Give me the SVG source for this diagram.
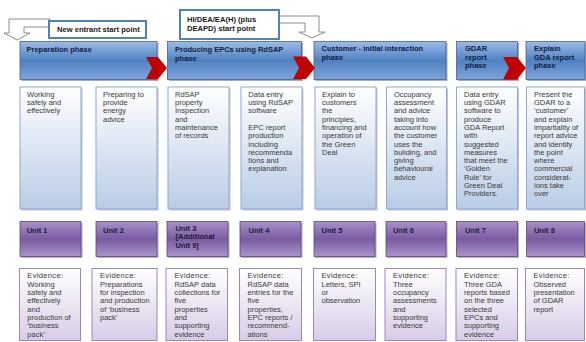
<svg xmlns="http://www.w3.org/2000/svg" width="586" height="342" viewBox="0 0 586 342">
<defs>
<linearGradient id="gBlue" x1="0" y1="0" x2="0" y2="1">
<stop offset="0" stop-color="#9DBCE7"/>
<stop offset="0.5" stop-color="#4F81C2"/>
<stop offset="1" stop-color="#7FA3D8"/>
</linearGradient>
<linearGradient id="gPurple" x1="0" y1="0" x2="0" y2="1">
<stop offset="0" stop-color="#A991C9"/>
<stop offset="0.5" stop-color="#7A5BA1"/>
<stop offset="1" stop-color="#A994C9"/>
</linearGradient>
<linearGradient id="gLight" x1="0" y1="0" x2="0" y2="1">
<stop offset="0" stop-color="#FFFFFF"/>
<stop offset="1" stop-color="#B9CCE6"/>
</linearGradient>
<linearGradient id="gLav" x1="0" y1="0" x2="0" y2="1">
<stop offset="0" stop-color="#FFFFFF"/>
<stop offset="1" stop-color="#D8CCE6"/>
</linearGradient>
</defs>
<style>
text{font-family:"Liberation Sans",Arial,sans-serif;font-size:7.5px;}
.hdr{fill:url(#gBlue);stroke:#3F6597;stroke-width:0.8;}
.hs{fill:#5a6b80;opacity:0.55;}
.ht{font-weight:bold;fill:#10203F;}
.box{fill:url(#gLight);stroke:#8FAAD2;stroke-width:1;}
.bs{fill:#c0c6d0;}
.bt{fill:#3A3A3A;}
.unit{fill:url(#gPurple);stroke:#5E4682;stroke-width:0.8;}
.us{fill:#6d6478;opacity:0.5;}
.ut{font-weight:bold;fill:#24173A;}
.ev{fill:url(#gLav);stroke:#9C86BF;stroke-width:1;}
.et{fill:#3A3A3A;}
.eh{letter-spacing:0.35px;}
.chev{fill:#C00000;}
.lbl{fill:#FFFFFF;stroke:#4F81BD;stroke-width:2;}
.lt{font-weight:bold;fill:#1A1A1A;font-size:7.6px;}
.conn{fill:#FFFFFF;stroke:#707070;stroke-width:0.8;}
</style>

<g id="connectors">
<path class="conn" d="M50,19 L9,19 L9,33 L4,33 L17,40 L30,33 L24,33 L24,27 L50,27 Z"/>
<path class="conn" d="M279,16 L319,16 L319,32 L325,32 L312,38 L299,32 L305,32 L305,23 L279,23 Z"/>
</g>

<g id="label-new-entrant">
<rect class="lbl" x="49" y="21" width="97" height="17"/>
<text class="lt" x="57" y="32">New entrant start point</text>
</g>
<g id="label-hidea">
<rect class="lbl" x="180" y="10" width="99" height="29"/>
<text class="lt" x="187" y="21.5">HI/DEA/EA(H) (plus</text>
<text class="lt" x="187" y="31">DEAPD) start point</text>
</g>

<g id="phase-preparation">
<rect class="hs" x="21.5" y="43" width="137" height="38"/>
<rect class="hdr" x="20" y="41.5" width="137" height="38"/>
<text class="ht" x="26.5" y="52">Preparation phase</text>
</g>
<g id="phase-producing">
<rect class="hs" x="169" y="43" width="134" height="38"/>
<rect class="hdr" x="167.5" y="41.5" width="134" height="38"/>
<text class="ht" x="175" y="52">Producing  EPCs using RdSAP</text>
<text class="ht" x="175" y="60.5">phase</text>
</g>
<g id="phase-customer">
<rect class="hs" x="315.5" y="43" width="132" height="38"/>
<rect class="hdr" x="314" y="41.5" width="132" height="38"/>
<text class="ht" x="321.5" y="51">Customer - initial interaction</text>
<text class="ht" x="321.5" y="60">phase</text>
</g>
<g id="phase-gdar">
<rect class="hs" x="458" y="43" width="61" height="38"/>
<rect class="hdr" x="456.5" y="41.5" width="61" height="38"/>
<text class="ht" x="465" y="51">GDAR</text>
<text class="ht" x="465" y="59.5">report</text>
<text class="ht" x="465" y="68">phase</text>
</g>
<g id="phase-explain">
<rect class="hs" x="527.5" y="43" width="60" height="38"/>
<rect class="hdr" x="526" y="41.5" width="59" height="38"/>
<text class="ht" x="534" y="51">Explain</text>
<text class="ht" x="534" y="59.5">GDA report</text>
<text class="ht" x="534" y="68">phase</text>
</g>

<g id="chevrons">
<polygon class="chev" points="146,57 158,57 167,68 158,79 146,79 152,68"/>
<polygon class="chev" points="293,56.5 306,56.5 315,68 306,79 293,79 299,68"/>
<polygon class="chev" points="503,57 517,57 526,68 517,79.5 503,79.5 509,68"/>
</g>

<g id="task-1">
<rect class="bs" x="21.5" y="88.5" width="61" height="122"/>
<rect class="box" x="20" y="87" width="61" height="122"/>
<text class="bt" x="27" y="96.7">Working</text>
<text class="bt" x="27" y="105">safely and</text>
<text class="bt" x="27" y="113.3">effectively</text>
</g>
<g id="task-2">
<rect class="bs" x="97.5" y="88.5" width="61" height="122"/>
<rect class="box" x="96" y="87" width="61" height="122"/>
<text class="bt" x="103" y="96.7">Preparing to</text>
<text class="bt" x="103" y="105">provide</text>
<text class="bt" x="103" y="113.3">energy</text>
<text class="bt" x="103" y="121.6">advice</text>
</g>
<g id="task-3">
<rect class="bs" x="169.5" y="88.5" width="61" height="122"/>
<rect class="box" x="168" y="87" width="61" height="122"/>
<text class="bt" x="175" y="96.7">RdSAP</text>
<text class="bt" x="175" y="105">property</text>
<text class="bt" x="175" y="113.3">Inspection</text>
<text class="bt" x="175" y="121.6">and</text>
<text class="bt" x="175" y="129.9">maintenance</text>
<text class="bt" x="175" y="138.2">of records</text>
</g>
<g id="task-4">
<rect class="bs" x="242.5" y="88.5" width="61" height="122"/>
<rect class="box" x="241" y="87" width="61" height="122"/>
<text class="bt" x="248.3" y="96.7">Data entry</text>
<text class="bt" x="248.3" y="105">using RdSAP</text>
<text class="bt" x="248.3" y="113.3">software</text>
<text class="bt" x="248.3" y="129.9">EPC report</text>
<text class="bt" x="248.3" y="138.2">production</text>
<text class="bt" x="248.3" y="146.5">including</text>
<text class="bt" x="248.3" y="154.8">recommenda</text>
<text class="bt" x="248.3" y="163.1">tions and</text>
<text class="bt" x="248.3" y="171.4">explanation</text>
</g>
<g id="task-5">
<rect class="bs" x="316.5" y="88.5" width="61" height="122"/>
<rect class="box" x="315" y="87" width="61" height="122"/>
<text class="bt" x="322" y="96.7">Explain to</text>
<text class="bt" x="322" y="105">customers</text>
<text class="bt" x="322" y="113.3">the</text>
<text class="bt" x="322" y="121.6">principles,</text>
<text class="bt" x="322" y="129.9">financing and</text>
<text class="bt" x="322" y="138.2">operation of</text>
<text class="bt" x="322" y="146.5">the Green</text>
<text class="bt" x="322" y="154.8">Deal</text>
</g>
<g id="task-6">
<rect class="bs" x="388" y="88.5" width="60" height="122"/>
<rect class="box" x="386.5" y="87" width="60" height="122"/>
<text class="bt" x="394" y="96.7">Occupancy</text>
<text class="bt" x="394" y="105">assessment</text>
<text class="bt" x="394" y="113.3">and advice</text>
<text class="bt" x="394" y="121.6">taking into</text>
<text class="bt" x="394" y="129.9">account how</text>
<text class="bt" x="394" y="138.2">the customer</text>
<text class="bt" x="394" y="146.5">uses the</text>
<text class="bt" x="394" y="154.8">building, and</text>
<text class="bt" x="394" y="163.1">giving</text>
<text class="bt" x="394" y="171.4">behavioural</text>
<text class="bt" x="394" y="179.7">advice</text>
</g>
<g id="task-7">
<rect class="bs" x="458" y="88.5" width="61" height="122"/>
<rect class="box" x="456.5" y="87" width="61" height="122"/>
<text class="bt" x="464" y="96.7">Data entry</text>
<text class="bt" x="464" y="105">using GDAR</text>
<text class="bt" x="464" y="113.3">software to</text>
<text class="bt" x="464" y="121.6">produce</text>
<text class="bt" x="464" y="129.9">GDA Report</text>
<text class="bt" x="464" y="138.2">with</text>
<text class="bt" x="464" y="146.5">suggested</text>
<text class="bt" x="464" y="154.8">measures</text>
<text class="bt" x="464" y="163.1">that meet the</text>
<text class="bt" x="464" y="171.4">‘Golden</text>
<text class="bt" x="464" y="179.7">Rule’ for</text>
<text class="bt" x="464" y="188">Green Deal</text>
<text class="bt" x="464" y="196.3">Providers.</text>
</g>
<g id="task-8">
<rect class="bs" x="528" y="88.5" width="59" height="122"/>
<rect class="box" x="526.5" y="87" width="58" height="122"/>
<text class="bt" x="534" y="96.7">Present the</text>
<text class="bt" x="534" y="105">GDAR to a</text>
<text class="bt" x="534" y="113.3">‘customer’</text>
<text class="bt" x="534" y="121.6">and explain</text>
<text class="bt" x="534" y="129.9">impartiality of</text>
<text class="bt" x="534" y="138.2">report advice</text>
<text class="bt" x="534" y="146.5">and identify</text>
<text class="bt" x="534" y="154.8">the point</text>
<text class="bt" x="534" y="163.1">where</text>
<text class="bt" x="534" y="171.4">commercial</text>
<text class="bt" x="534" y="179.7">considerat-</text>
<text class="bt" x="534" y="188">ions take</text>
<text class="bt" x="534" y="196.3">over</text>
</g>

<g id="unit-1">
<rect class="us" x="21.5" y="223" width="61" height="35"/>
<rect class="unit" x="20" y="221.5" width="61" height="35"/>
<text class="ut" x="26.7" y="232.7">Unit 1</text>
</g>
<g id="unit-2">
<rect class="us" x="97.5" y="223" width="61" height="35"/>
<rect class="unit" x="96" y="221.5" width="61" height="35"/>
<text class="ut" x="103" y="232.7">Unit 2</text>
</g>
<g id="unit-3">
<rect class="us" x="168.5" y="223" width="61" height="35"/>
<rect class="unit" x="167" y="221.5" width="61" height="35"/>
<text class="ut" x="175.5" y="231">Unit 3</text>
<text class="ut" x="175.5" y="239.3">[Additional</text>
<text class="ut" x="175.5" y="247.6">Unit 9]</text>
</g>
<g id="unit-4">
<rect class="us" x="241.5" y="223" width="61" height="35"/>
<rect class="unit" x="240" y="221.5" width="61" height="35"/>
<text class="ut" x="248.5" y="232.7">Unit 4</text>
</g>
<g id="unit-5">
<rect class="us" x="315.5" y="223" width="61" height="35"/>
<rect class="unit" x="314" y="221.5" width="61" height="35"/>
<text class="ut" x="321.5" y="232.7">Unit 5</text>
</g>
<g id="unit-6">
<rect class="us" x="387.5" y="223" width="60" height="35"/>
<rect class="unit" x="386" y="221.5" width="60" height="35"/>
<text class="ut" x="393" y="232.7">Unit 6</text>
</g>
<g id="unit-7">
<rect class="us" x="458" y="223" width="61" height="35"/>
<rect class="unit" x="456.5" y="221.5" width="61" height="35"/>
<text class="ut" x="465" y="232.7">Unit 7</text>
</g>
<g id="unit-8">
<rect class="us" x="528" y="223" width="59" height="35"/>
<rect class="unit" x="526.5" y="221.5" width="58" height="35"/>
<text class="ut" x="534" y="232.7">Unit 8</text>
</g>

<g id="evidence-1">
<rect class="ev" x="19.5" y="268.5" width="61" height="72"/>
<text class="et eh" x="27.3" y="277.7">Evidence:</text>
<text class="et" x="27.3" y="286.7">Working</text>
<text class="et" x="27.3" y="295">safely and</text>
<text class="et" x="27.3" y="303.3">effectively</text>
<text class="et" x="27.3" y="311.6">and</text>
<text class="et" x="27.3" y="319.9">production of</text>
<text class="et" x="27.3" y="328.2">‘business</text>
<text class="et" x="27.3" y="336.5">pack’</text>
</g>
<g id="evidence-2">
<rect class="ev" x="92" y="268.5" width="65" height="72"/>
<text class="et eh" x="100" y="277.7">Evidence:</text>
<text class="et" x="100" y="286.7">Preparations</text>
<text class="et" x="100" y="295">for inspection</text>
<text class="et" x="100" y="303.3">and production</text>
<text class="et" x="100" y="311.6">of ‘business</text>
<text class="et" x="100" y="319.9">pack’</text>
</g>
<g id="evidence-3">
<rect class="ev" x="166" y="268.5" width="61.5" height="72"/>
<text class="et eh" x="174.5" y="277.7">Evidence:</text>
<text class="et" x="174.5" y="286.7">RdSAP data</text>
<text class="et" x="174.5" y="295">collections for</text>
<text class="et" x="174.5" y="303.3">five</text>
<text class="et" x="174.5" y="311.6">properties</text>
<text class="et" x="174.5" y="319.9">and</text>
<text class="et" x="174.5" y="328.2">supporting</text>
<text class="et" x="174.5" y="336.5">evidence</text>
</g>
<g id="evidence-4">
<rect class="ev" x="239.5" y="268.5" width="62" height="72"/>
<text class="et eh" x="247.5" y="277.7">Evidence:</text>
<text class="et" x="247.5" y="286.7">RdSAP data</text>
<text class="et" x="247.5" y="295">entries for the</text>
<text class="et" x="247.5" y="303.3">five</text>
<text class="et" x="247.5" y="311.6">properties,</text>
<text class="et" x="247.5" y="319.9">EPC reports /</text>
<text class="et" x="247.5" y="328.2">recommend-</text>
<text class="et" x="247.5" y="336.5">ations</text>
</g>
<g id="evidence-5">
<rect class="ev" x="313.5" y="268.5" width="62" height="72"/>
<text class="et eh" x="321.5" y="277.7">Evidence:</text>
<text class="et" x="321.5" y="286.7">Letters, SPI</text>
<text class="et" x="321.5" y="295">or</text>
<text class="et" x="321.5" y="303.3">observation</text>
</g>
<g id="evidence-6">
<rect class="ev" x="385" y="268.5" width="61" height="72"/>
<text class="et eh" x="393" y="277.7">Evidence:</text>
<text class="et" x="393" y="286.7">Three</text>
<text class="et" x="393" y="295">occupancy</text>
<text class="et" x="393" y="303.3">assessments</text>
<text class="et" x="393" y="311.6">and</text>
<text class="et" x="393" y="319.9">supporting</text>
<text class="et" x="393" y="328.2">evidence</text>
</g>
<g id="evidence-7">
<rect class="ev" x="456" y="268.5" width="61.5" height="72"/>
<text class="et eh" x="464" y="277.7">Evidence:</text>
<text class="et" x="464" y="286.7">Three GDA</text>
<text class="et" x="464" y="295">reports based</text>
<text class="et" x="464" y="303.3">on the three</text>
<text class="et" x="464" y="311.6">selected</text>
<text class="et" x="464" y="319.9">EPCs and</text>
<text class="et" x="464" y="328.2">supporting</text>
<text class="et" x="464" y="336.5">evidence</text>
</g>
<g id="evidence-8">
<rect class="ev" x="525.5" y="268.5" width="59" height="72"/>
<text class="et eh" x="533.5" y="277.7">Evidence:</text>
<text class="et" x="533.5" y="286.7">Observed</text>
<text class="et" x="533.5" y="295">presentation</text>
<text class="et" x="533.5" y="303.3">of GDAR</text>
<text class="et" x="533.5" y="311.6">report</text>
</g>
</svg>
